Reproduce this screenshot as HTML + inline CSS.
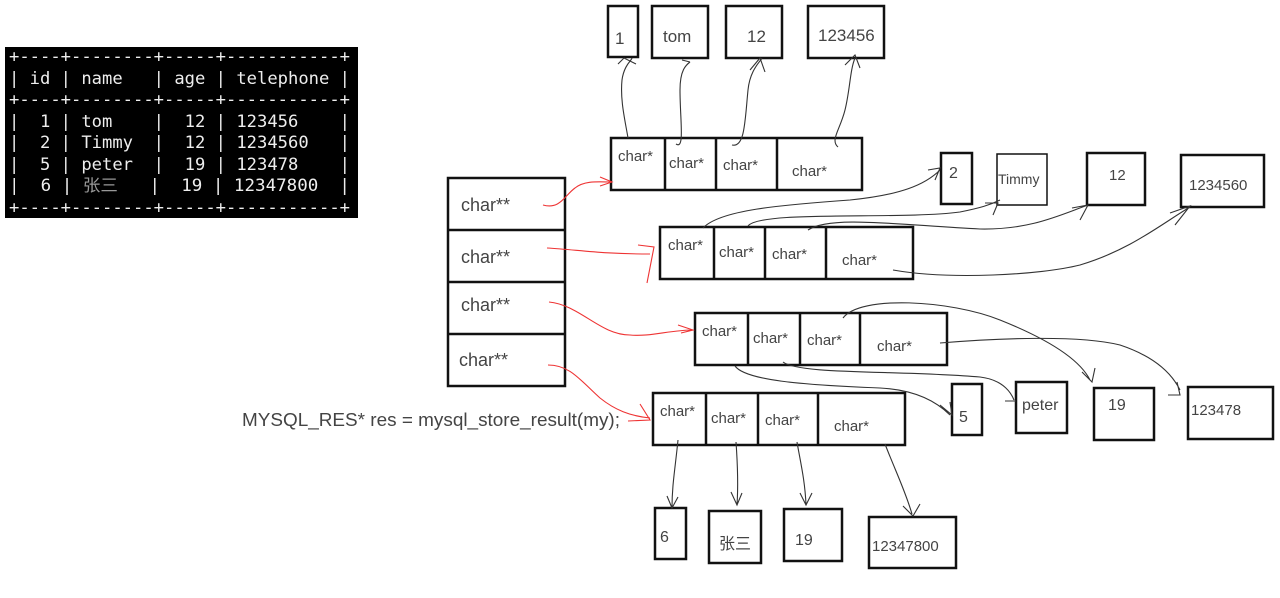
<!DOCTYPE html>
<html><head><meta charset="utf-8"><style>
html,body{margin:0;padding:0;background:#fff;width:1280px;height:598px;overflow:hidden}
svg{display:block}
.t{font-family:"Liberation Sans","Noto Sans CJK SC",sans-serif;fill:#444}
.m{font-family:"DejaVu Sans Mono","Liberation Mono",monospace;font-size:16.5px;fill:#eee}
.b{fill:none;stroke:#111;stroke-width:2.5}
.bt{fill:none;stroke:#111;stroke-width:1.5}
.k{fill:none;stroke:#333;stroke-width:1.1}
.r{fill:none;stroke:#e33;stroke-width:1.1}
</style></head><body>
<svg width="1280" height="598" xmlns="http://www.w3.org/2000/svg">
<rect x="5" y="47" width="353" height="171" fill="#000"/>
<g class="m" xml:space="preserve">
<text xml:space="preserve" x="9" y="62" textLength="341" lengthAdjust="spacingAndGlyphs">+----+--------+-----+-----------+</text>
<text xml:space="preserve" x="9" y="84" textLength="341" lengthAdjust="spacingAndGlyphs">| id | name   | age | telephone |</text>
<text xml:space="preserve" x="9" y="105" textLength="341" lengthAdjust="spacingAndGlyphs">+----+--------+-----+-----------+</text>
<text xml:space="preserve" x="9" y="127" textLength="341" lengthAdjust="spacingAndGlyphs">|  1 | tom    |  12 | 123456    |</text>
<text xml:space="preserve" x="9" y="148" textLength="341" lengthAdjust="spacingAndGlyphs">|  2 | Timmy  |  12 | 1234560   |</text>
<text xml:space="preserve" x="9" y="170" textLength="341" lengthAdjust="spacingAndGlyphs">|  5 | peter  |  19 | 123478    |</text>
<text xml:space="preserve" x="9" y="191" textLength="341" lengthAdjust="spacingAndGlyphs">|  6 | <tspan fill="#999">张三</tspan>   |  19 | 12347800  |</text>
<text xml:space="preserve" x="9" y="213" textLength="341" lengthAdjust="spacingAndGlyphs">+----+--------+-----+-----------+</text>
</g>

<g class="b"><rect x="448" y="178" width="117" height="208"/>
<line x1="448" y1="230" x2="565" y2="230"/><line x1="448" y1="282" x2="565" y2="282"/><line x1="448" y1="334" x2="565" y2="334"/></g>
<g class="t" font-size="18"><text x="461" y="211">char**</text><text x="461" y="263">char**</text><text x="461" y="311">char**</text><text x="459" y="366">char**</text></g>

<text class="t" x="242" y="426" font-size="18" textLength="378" lengthAdjust="spacingAndGlyphs">MYSQL_RES* res = mysql_store_result(my);</text>

<g class="b">
<rect x="611" y="138" width="251" height="52"/><line x1="665" y1="138" x2="665" y2="190"/><line x1="716" y1="138" x2="716" y2="190"/><line x1="777" y1="138" x2="777" y2="190"/>
<rect x="660" y="227" width="253" height="52"/><line x1="714" y1="227" x2="714" y2="279"/><line x1="765" y1="227" x2="765" y2="279"/><line x1="826" y1="227" x2="826" y2="279"/>
<rect x="695" y="313" width="252" height="52"/><line x1="748" y1="313" x2="748" y2="365"/><line x1="800" y1="313" x2="800" y2="365"/><line x1="860" y1="313" x2="860" y2="365"/>
<rect x="653" y="393" width="252" height="52"/><line x1="706" y1="393" x2="706" y2="445"/><line x1="758" y1="393" x2="758" y2="445"/><line x1="818" y1="393" x2="818" y2="445"/>
</g>
<g class="t" font-size="15">
<text x="618" y="161">char*</text><text x="669" y="168">char*</text><text x="723" y="170">char*</text><text x="792" y="176">char*</text>
<text x="668" y="250">char*</text><text x="719" y="257">char*</text><text x="772" y="259">char*</text><text x="842" y="265">char*</text>
<text x="702" y="336">char*</text><text x="753" y="343">char*</text><text x="807" y="345">char*</text><text x="877" y="351">char*</text>
<text x="660" y="416">char*</text><text x="711" y="423">char*</text><text x="765" y="425">char*</text><text x="834" y="431">char*</text>
</g>

<g class="b">
<rect x="608" y="6" width="30" height="51"/><rect x="652" y="6" width="56" height="52"/><rect x="726" y="6" width="56" height="52"/><rect x="808" y="6" width="76" height="52"/>
<rect x="941" y="153" width="31" height="51"/><rect x="1087" y="153" width="58" height="52"/><rect x="1181" y="155" width="83" height="52"/>
<rect x="952" y="384" width="30" height="51"/><rect x="1016" y="382" width="51" height="51"/><rect x="1094" y="388" width="60" height="52"/><rect x="1188" y="387" width="85" height="52"/>
<rect x="655" y="508" width="31" height="51"/><rect x="709" y="511" width="52" height="52"/><rect x="784" y="509" width="58" height="52"/><rect x="869" y="517" width="87" height="51"/>
</g>
<rect class="bt" x="997" y="154" width="50" height="51"/>
<g class="t">
<text x="615" y="44" font-size="17">1</text><text x="663" y="42" font-size="17">tom</text><text x="747" y="42" font-size="17">12</text><text x="818" y="41" font-size="17">123456</text>
<text x="949" y="178" font-size="16">2</text><text x="998" y="184" font-size="14">Timmy</text><text x="1109" y="180" font-size="15">12</text><text x="1189" y="190" font-size="15">1234560</text>
<text x="959" y="422" font-size="16">5</text><text x="1022" y="410" font-size="16">peter</text><text x="1108" y="410" font-size="16">19</text><text x="1191" y="415" font-size="15">123478</text>
<text x="660" y="542" font-size="16">6</text><text x="719" y="549" font-size="16">张三</text><text x="795" y="545" font-size="16">19</text><text x="872" y="551" font-size="15">12347800</text>
</g>

<path class="r" d="M543 205 C560 210 565 195 575 188 C585 180 600 182 612 182 M600 177 L612 182 L600 186"/>
<path class="r" d="M547 248 C580 250 600 254 650 254 M638 245 L654 247 L647 283"/>
<path class="r" d="M549 302 C580 305 600 335 630 335 C650 337 670 330 693 330 M678 325 L693 330 L681 333"/>
<path class="r" d="M548 365 C570 365 580 380 600 398 C615 410 630 416 650 418 M640 404 L650 420 L628 421"/>

<path class="k" d="M628 138 C625 120 620 100 622 80 C624 65 632 60 632 58 M618 64 L624 58 L636 64"/>
<path class="k" d="M676 144 C685 150 680 120 680 90 C680 70 686 65 690 62 M682 60 L690 62"/>
<path class="k" d="M732 145 C745 148 745 120 748 90 C750 70 760 62 762 58 M750 70 L760 58 L765 72"/>
<path class="k" d="M838 147 C830 140 840 130 845 110 C850 90 850 70 855 58 M845 65 L855 55 L860 68"/>
<path class="k" d="M703 228 C720 210 780 205 850 200 C900 195 925 185 940 170 M928 170 L940 168 L935 180"/>
<path class="k" d="M748 226 C760 210 900 220 960 212 C980 208 990 205 1000 200 M985 203 L998 203 L993 215"/>
<path class="k" d="M808 230 C830 215 900 225 980 229 C1030 230 1060 215 1088 205 M1072 208 L1088 205 L1080 220"/>
<path class="k" d="M893 270 C950 280 1040 275 1080 265 C1130 250 1160 225 1190 207 M1170 213 L1190 206 L1175 225"/>
<path class="k" d="M843 318 C860 295 950 300 1000 320 C1050 340 1080 360 1090 380 M1082 372 L1092 382 L1095 368"/>
<path class="k" d="M940 343 C1000 338 1080 335 1120 345 C1150 355 1170 370 1180 390 M1168 395 L1180 395 L1177 382"/>
<path class="k" d="M735 366 C745 380 800 385 880 388 C920 390 940 405 950 415 M940 405 L952 415 L950 402"/>
<path class="k" d="M783 362 C800 375 900 370 980 377 C1005 380 1012 395 1014 400 M1005 401 L1016 401"/>
<path class="k" d="M678 440 C675 470 672 485 672 508 M667 496 L672 508 L678 497"/>
<path class="k" d="M736 442 C738 470 738 490 737 505 M731 492 L737 505 L742 493"/>
<path class="k" d="M797 442 C800 460 805 480 806 505 M800 493 L806 505 L812 493"/>
<path class="k" d="M885 444 C895 470 905 490 912 514 M903 506 L913 516 L920 504"/>
</svg>
</body></html>
